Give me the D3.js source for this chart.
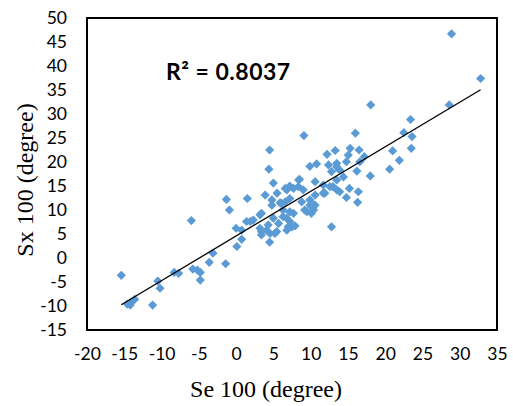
<!DOCTYPE html>
<html>
<head>
<meta charset="utf-8">
<script src="https://cdn.jsdelivr.net/npm/d3@7"></script>
<style>
  body { margin: 0; background: #fff; }
  svg { display: block; }
</style>
</head>
<body>
<div id="chart"></div>
<script>
// Se 100 values (x) and matching Sx 100 values (y)
const seValues = [
  -15.4, -14.6, -14.1, -13.6, -14.2, -11.2, -10.5, -10.2, -8.3, -7.7,
  -6.0, -5.8, -5.2, -4.8, -4.8, -3.6, -3.1, -1.4, -1.3, -0.9,
  0.0, 0.1, 0.75, 0.75, 1.4, 1.5, 1.9, 2.3, 3.2, 3.2,
  3.4, 3.4, 3.4, 3.9, 4.1, 4.5, 4.3, 4.4, 4.5, 4.55,
  4.8, 4.8, 5.0, 5.0, 5.2, 5.45, 5.5, 5.7, 5.9, 6.1,
  6.3, 6.3, 6.6, 6.6, 6.8, 6.8, 6.8, 7.0, 7.2, 7.2,
  7.2, 7.2, 7.5, 7.7, 7.7, 7.9, 8.35, 8.4, 8.5, 8.8,
  9.0, 9.1, 9.2, 9.5, 9.9, 9.9, 9.9, 10.1, 10.4, 10.4,
  10.6, 10.6, 10.6, 10.8, 11.7, 11.7, 11.9, 12.2, 12.4, 12.6,
  12.8, 12.8, 13.0, 13.3, 13.5, 13.5, 13.5, 13.5, 13.9, 13.9,
  14.4, 14.8, 14.8, 15.05, 15.2, 15.3, 16.0, 16.2, 16.3, 16.4,
  16.5, 16.6, 17.2, 18.0, 18.06, 20.6, 21.0, 21.9, 22.5, 23.4,
  23.5, 23.6, 28.6, 28.9, 32.8
];
const sxValues = [
  -3.6, -9.6, -9.2, -8.6, -9.8, -9.8, -4.8, -6.3, -3.0, -3.2,
  7.8, -2.3, -2.5, -3.0, -4.6, -0.9, 1.0, -1.2, 12.2, 10.0,
  6.2, 2.4, 3.9, 5.8, 7.6, 12.4, 7.6, 7.9, 6.2, 9.0,
  4.8, 5.5, 9.3, 13.1, 5.8, 3.3, 6.9, 18.5, 22.5, 5.1,
  11.0, 12.1, 8.3, 15.6, 5.1, 5.5, 13.5, 7.2, 11.5, 11.4,
  8.6, 10.0, 11.7, 14.5, 5.8, 8.3, 14.2, 6.5, 7.6, 9.6,
  12.4, 15.0, 6.5, 9.3, 14.5, 6.7, 14.85, 16.25, 16.4, 11.7,
  14.2, 25.5, 10.0, 9.65, 11.0, 12.1, 19.1, 9.3, 10.0, 11.0,
  11.0, 13.1, 15.9, 19.6, 13.5, 15.2, 13.5, 21.6, 19.4, 14.85,
  6.5, 18.0, 14.85, 22.4, 14.2, 16.25, 19.0, 19.7, 13.8, 18.3,
  16.9, 12.6, 20.05, 21.45, 14.5, 22.85, 26.0, 18.1, 11.6, 13.8,
  22.5, 20.05, 21.1, 17.1, 31.9, 18.5, 22.3, 20.35, 26.1, 28.85,
  22.85, 25.3, 31.9, 46.7, 37.4
];
const points = seValues.map((x, i) => ({ x: x, y: sxValues[i] }));

const xTicks = [-20, -15, -10, -5, 0, 5, 10, 15, 20, 25, 30, 35];
const yTicks = [-15, -10, -5, 0, 5, 10, 15, 20, 25, 30, 35, 40, 45, 50];

// linear trendline as shown in the chart
const trendSlope = 0.929;
const trendIntercept = 4.58;
const rSquaredLabel = 'R² = 0.8037';

const width = 513;
const height = 406;
const margin = { top: 18, right: 16, bottom: 76, left: 87 };

const svg = d3.select('#chart')
  .append('svg')
  .attr('width', width)
  .attr('height', height);

const x = d3.scaleLinear()
  .domain([-20, 35])
  .range([margin.left, width - margin.right]);

const y = d3.scaleLinear()
  .domain([-15, 50])
  .range([height - margin.bottom, margin.top]);

const tickFont = 'Lato, "Open Sans", sans-serif';
const plainNumber = d => String(d); // keep the ASCII hyphen like Excel

// x axis labels (no tick marks)
svg.append('g')
  .attr('transform', `translate(0,${y(-15)})`)
  .call(d3.axisBottom(x).tickValues(xTicks).tickFormat(plainNumber).tickSize(0).tickPadding(18))
  .call(g => g.select('.domain').remove())
  .selectAll('text')
  .attr('font-family', tickFont)
  .attr('font-size', 17.5)
  .attr('fill', '#000');

// y axis labels
svg.append('g')
  .attr('transform', `translate(${x(-20)},0)`)
  .call(d3.axisLeft(y).tickValues(yTicks).tickFormat(plainNumber).tickSize(0).tickPadding(20))
  .call(g => g.select('.domain').remove())
  .selectAll('text')
  .attr('font-family', tickFont)
  .attr('font-size', 17.5)
  .attr('fill', '#000');

// points as diamonds
const r = 4.6;
svg.append('g')
  .selectAll('path')
  .data(points)
  .enter()
  .append('path')
  .attr('d', `M0,${-r}L${r},0L0,${r}L${-r},0Z`)
  .attr('transform', d => `translate(${x(d.x)},${y(d.y)})`)
  .attr('fill', '#5B9BD5');

// trendline across the data range
const [xMin, xMax] = d3.extent(seValues);
svg.append('line')
  .attr('x1', x(xMin))
  .attr('y1', y(trendSlope * xMin + trendIntercept))
  .attr('x2', x(xMax))
  .attr('y2', y(trendSlope * xMax + trendIntercept))
  .attr('stroke', '#000')
  .attr('stroke-width', 1.3);

// plot frame
svg.append('rect')
  .attr('x', x(-20))
  .attr('y', y(50))
  .attr('width', x(35) - x(-20))
  .attr('height', y(-15) - y(50))
  .attr('fill', 'none')
  .attr('stroke', '#000')
  .attr('stroke-width', 2);

// R squared label
svg.append('text')
  .attr('x', 166)
  .attr('y', 80)
  .attr('font-family', tickFont)
  .attr('font-weight', 'bold')
  .attr('font-size', 23)
  .attr('letter-spacing', 0.5)
  .attr('fill', '#000')
  .text(rSquaredLabel);

// axis titles
svg.append('text')
  .attr('x', 266)
  .attr('y', 397)
  .attr('text-anchor', 'middle')
  .attr('font-family', '"Liberation Serif", "Times New Roman", serif')
  .attr('font-size', 24)
  .attr('fill', '#000')
  .text('Se 100 (degree)');

svg.append('text')
  .attr('transform', 'translate(33,180) rotate(-90)')
  .attr('text-anchor', 'middle')
  .attr('font-family', '"Liberation Serif", "Times New Roman", serif')
  .attr('font-size', 24)
  .attr('fill', '#000')
  .text('Sx 100 (degree)');
</script>
</body>
</html>
